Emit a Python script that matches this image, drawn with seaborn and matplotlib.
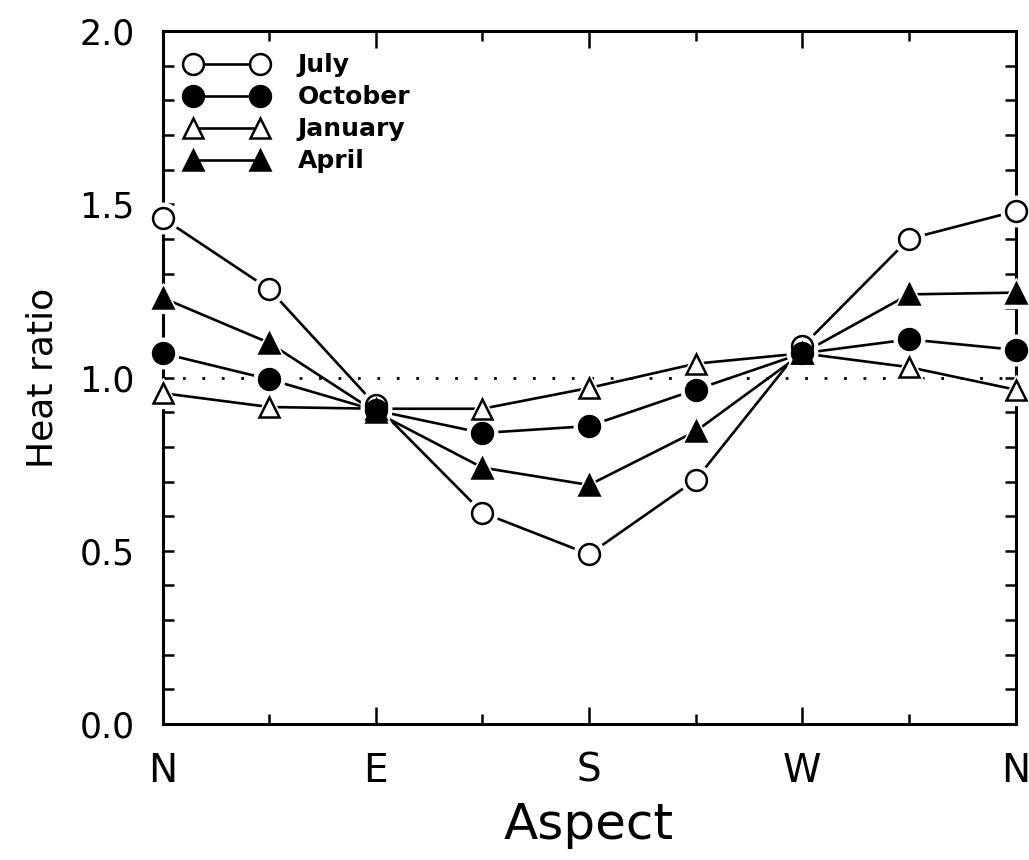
import numpy as np
import pandas as pd
import matplotlib
matplotlib.use("Agg")
import matplotlib.pyplot as plt
from matplotlib.lines import Line2D
from matplotlib.ticker import MultipleLocator
import seaborn as sns

# Compass aspects, N through the full circle back to N
aspects = ["N", "NE", "E", "SE", "S", "SW", "W", "NW", "N"]
tick_labels = ["N", "", "E", "", "S", "", "W", "", "N"]

# Heat ratio per aspect for each month
july = [1.46, 1.255, 0.92, 0.61, 0.49, 0.705, 1.09, 1.40, 1.48]
october = [1.07, 0.995, 0.905, 0.84, 0.86, 0.965, 1.07, 1.11, 1.08]
january = [0.955, 0.915, 0.91, 0.91, 0.97, 1.04, 1.07, 1.03, 0.965]
april = [1.23, 1.10, 0.90, 0.74, 0.69, 0.845, 1.07, 1.24, 1.245]

months = ["July", "October", "January", "April"]
values = {"July": july, "October": october, "January": january, "April": april}
styles = {
    "July": dict(marker="o", mfc="white", ms=15),
    "October": dict(marker="o", mfc="black", ms=15),
    "January": dict(marker="^", mfc="white", ms=14),
    "April": dict(marker="^", mfc="black", ms=14),
}

pos = np.arange(len(aspects))
df = pd.concat(
    [pd.DataFrame({"pos": pos, "ratio": values[m], "month": m}) for m in months],
    ignore_index=True,
)

sns.set_style("ticks")
plt.rcParams["font.family"] = ["DejaVu Sans"]
plt.rcParams.update({
    "text.color": "black",
    "axes.labelcolor": "black",
    "xtick.color": "black",
    "ytick.color": "black",
    "axes.edgecolor": "black",
})

fig = plt.figure(figsize=(10.29, 8.60), dpi=100)
ax = fig.add_axes([0.158, 0.158, 0.829, 0.806])

# reference level at a ratio of 1
ax.axhline(1.0, color="black", lw=2.0, ls=(0, (1, 6)), zorder=1)

# connecting lines
for m in months:
    sub = df[df["month"] == m]
    sns.lineplot(data=sub, x="pos", y="ratio", ax=ax, color="black",
                 lw=1.9, legend=False, zorder=2, estimator=None, sort=False)

# white halo under each marker so the lines stop short of the symbols
for m in months:
    sub = df[df["month"] == m]
    st = styles[m]
    ax.plot(sub["pos"], sub["ratio"], ls="none", marker=st["marker"],
            ms=st["ms"] + 7, mfc="white", mec="white", zorder=3, clip_on=False)

for m in months:
    sub = df[df["month"] == m]
    st = styles[m]
    ax.plot(sub["pos"], sub["ratio"], ls="none", marker=st["marker"],
            ms=st["ms"], mfc=st["mfc"], mec="black", mew=1.8, zorder=4,
            clip_on=False)

ax.set_xlim(0, 8)
ax.set_ylim(0, 2.0)

ax.set_xticks(pos[::2])
ax.set_xticklabels(tick_labels[::2])
ax.xaxis.set_minor_locator(MultipleLocator(1))
ax.yaxis.set_major_locator(MultipleLocator(0.5))
ax.yaxis.set_minor_locator(MultipleLocator(0.1))
ax.set_yticklabels([f"{v:.1f}" for v in ax.get_yticks()])

ax.tick_params(axis="both", which="both", direction="in", top=True, right=True,
               color="black", width=1.8)
ax.tick_params(axis="x", which="major", length=12, labelsize=28, pad=20)
ax.tick_params(axis="x", which="minor", length=7)
ax.tick_params(axis="y", which="major", length=8, labelsize=25, pad=20)
ax.tick_params(axis="y", which="minor", length=8)

for sp in ax.spines.values():
    sp.set_linewidth(2.2)
    sp.set_color("black")

ax.set_xlabel("Aspect", fontsize=36, labelpad=8)
ax.set_ylabel("Heat ratio", fontsize=26, labelpad=14)

handles = [
    Line2D([], [], color="black", lw=1.9, marker=styles[m]["marker"],
           ms=styles[m]["ms"], mfc=styles[m]["mfc"], mec="black", mew=1.8)
    for m in months
]
ax.legend(handles, months, loc="upper left", frameon=False, numpoints=2,
          handlelength=3.3, handletextpad=1.2, labelspacing=0.32,
          borderaxespad=0.5, prop=dict(weight="bold", size=18))

fig.savefig("out.png", dpi=100, facecolor="white")
